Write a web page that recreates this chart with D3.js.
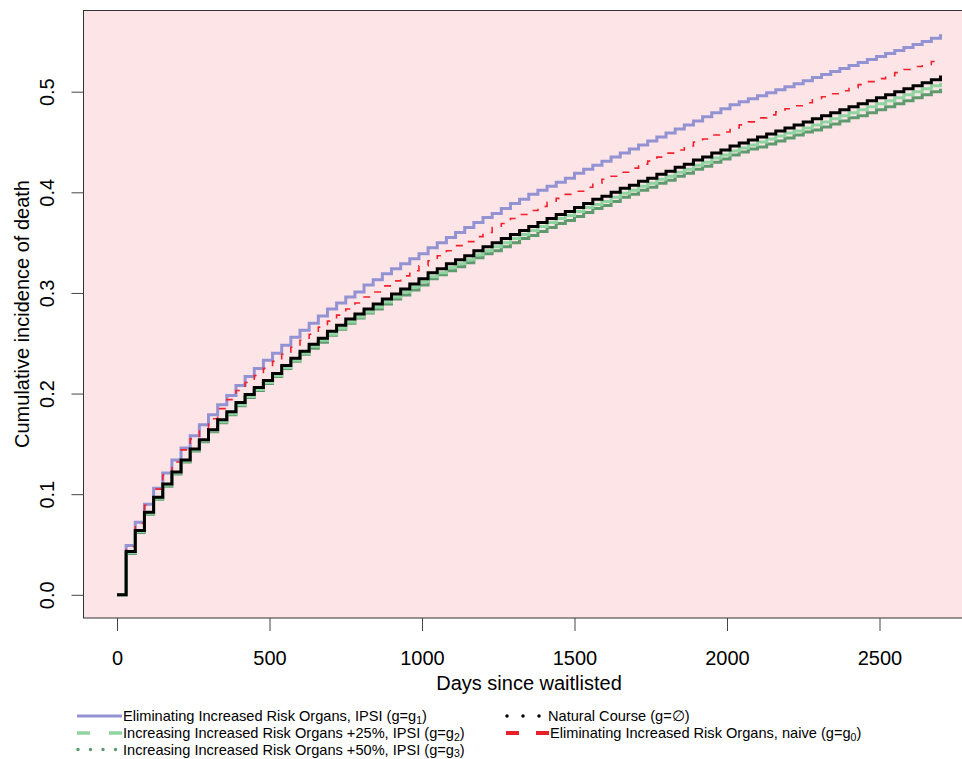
<!DOCTYPE html>
<html>
<head>
<meta charset="utf-8">
<script src="https://cdn.jsdelivr.net/npm/d3@7"></script>
<style>
  body { margin: 0; background: #fff; }
  text { font-family: "Liberation Sans", Arial, sans-serif; fill: #000; }
</style>
</head>
<body>
<div id="chart"></div>
<script>
// cumulative incidence step curves, one value per 30-day step
var days = [0,30,60,90,120,150,180,210,240,270,300,330,360,390,420,450,480,510,540,570,600,
  630,660,690,720,750,780,810,840,870,900,930,960,990,1020,1050,1080,1110,1140,1170,1200,
  1230,1260,1290,1320,1350,1380,1410,1440,1470,1500,1530,1560,1590,1620,1650,1680,1710,1740,1770,1800,
  1830,1860,1890,1920,1950,1980,2010,2040,2070,2100,2130,2160,2190,2220,2250,2280,2310,2340,2370,2400,
  2430,2460,2490,2520,2550,2580,2610,2640,2670,2700];

// Eliminating Increased Risk Organs, IPSI (g1)
var elimIPSI = [0, .049,.072,.090,.106,.121,.134,.146,.158,.169,.179, .189,.198,.208,.217,.225,.233,.240,.248,.256,.263,
  .270,.277,.284,.290,.296,.301,.308,.313,.319,.324, .329,.334,.339,.345,.350,.355,.360,.365,.370,.375,
  .379,.384,.389,.393,.398,.402,.406,.410,.414,.419, .423,.427,.431,.435,.439,.443,.447,.451,.455,.459,
  .463,.467,.471,.475,.479,.483,.487,.490,.493,.496, .499,.502,.505,.508,.511,.514,.517,.520,.523,.526,
  .529,.532,.535,.538,.541,.544,.547,.550,.553,.557];

// Increasing Increased Risk Organs +25% (g2)
var inc25 = [0, .042,.063,.081,.096,.109,.121,.133,.144,.153,.163, .172,.180,.189,.197,.204,.211,.218,.226,.233,.240,
  .247,.253,.259,.265,.271,.276,.281,.286,.291,.296, .301,.306,.311,.316,.320,.325,.329,.333,.338,.342,
  .346,.350,.354,.358,.362,.366,.370,.374,.377,.381, .385,.388,.391,.395,.399,.402,.406,.409,.413,.416,
  .420,.423,.427,.430,.434,.437,.441,.444,.447,.450, .453,.456,.459,.461,.464,.467,.470,.473,.476,.479,
  .482,.485,.488,.491,.494,.497,.500,.503,.506,.509];

// Increasing Increased Risk Organs +50% (g3)
var inc50 = [0, .041,.062,.080,.095,.108,.120,.132,.143,.152,.162, .171,.179,.188,.196,.203,.210,.217,.225,.232,.239,
  .245,.251,.258,.264,.270,.275,.280,.284,.289,.294, .298,.303,.308,.314,.318,.322,.326,.330,.335,.339,
  .342,.346,.350,.354,.357,.361,.365,.369,.372,.376, .380,.384,.387,.391,.395,.398,.402,.405,.409,.412,
  .416,.419,.423,.426,.430,.433,.437,.440,.443,.445, .448,.451,.454,.457,.460,.462,.465,.468,.471,.474,
  .476,.479,.482,.485,.488,.491,.494,.497,.500,.503];

// Natural course
var natural = [0, .043,.064,.082,.097,.110,.122,.134,.145,.154,.164, .174,.182,.191,.199,.206,.213,.220,.228,.235,.242,
  .249,.255,.262,.268,.274,.279,.284,.289,.294,.299, .304,.309,.314,.320,.324,.329,.333,.337,.342,.346,
  .350,.354,.358,.362,.366,.370,.374,.378,.381,.385, .389,.393,.396,.400,.404,.407,.411,.414,.418,.421,
  .425,.428,.432,.435,.439,.442,.446,.449,.452,.455, .458,.461,.464,.467,.470,.473,.476,.479,.482,.485,
  .488,.491,.494,.497,.500,.503,.506,.509,.512,.516];

// Eliminating Increased Risk Organs, naive (g0)
var elimNaive = [0, .048,.071,.089,.105,.119,.132,.144,.155,.165,.175, .185,.194,.203,.211,.218,.225,.232,.239,.246,.253,
  .259,.266,.272,.278,.284,.290,.296,.301,.307,.312, .317,.322,.327,.332,.337,.342,.347,.351,.356,.360,
  .365,.369,.374,.378,.382,.386,.390,.394,.398,.401, .405,.409,.413,.416,.420,.424,.428,.431,.435,.439,
  .442,.446,.450,.453,.457,.460,.464,.467,.470,.474, .477,.480,.483,.486,.489,.492,.495,.498,.501,.504,
  .507,.510,.513,.516,.519,.522,.525,.527,.530,.533];

var xTicks = [0, 500, 1000, 1500, 2000, 2500];
var yTicks = [0, 0.1, 0.2, 0.3, 0.4, 0.5];

var svgWidth = 962;
var svgHeight = 759;

var svg = d3.select("#chart")
  .append("svg")
  .attr("width", svgWidth)
  .attr("height", svgHeight);

var panel = {left: 83.5, top: 10.5, bottom: 618};

var xScale = d3.scaleLinear().domain([0, 2500]).range([117, 879.5]);
var yScale = d3.scaleLinear().domain([0, 0.5]).range([594.8, 91.7]);

// background panel
svg.append("rect")
  .attr("x", panel.left)
  .attr("y", panel.top)
  .attr("width", 1000)
  .attr("height", panel.bottom - panel.top)
  .attr("fill", "#fce4e7")
  .attr("stroke", "#333")
  .attr("stroke-width", 1);

// x axis
var xAxis = svg.append("g")
  .attr("transform", `translate(0, ${panel.bottom})`)
  .call(d3.axisBottom(xScale).tickValues(xTicks).tickSize(13).tickPadding(20).tickFormat(d3.format("d")));
xAxis.select(".domain").remove();
xAxis.selectAll(".tick line").attr("stroke", "#444");
xAxis.selectAll("text").attr("font-size", 20).attr("font-family", "Liberation Sans, Arial, sans-serif");

// y axis, labels rotated like base R
var yAxis = svg.append("g")
  .attr("transform", `translate(${panel.left}, 0)`)
  .call(d3.axisLeft(yScale).tickValues(yTicks).tickSize(12).tickFormat(d3.format(".1f")));
yAxis.select(".domain").remove();
yAxis.selectAll(".tick line").attr("stroke", "#444");
yAxis.selectAll(".tick text")
  .attr("x", null).attr("dy", null)
  .attr("text-anchor", "middle")
  .attr("font-size", 20)
  .attr("font-family", "Liberation Sans, Arial, sans-serif")
  .attr("transform", "translate(-30, 0) rotate(-90)");

svg.append("text")
  .attr("x", 529)
  .attr("y", 690)
  .attr("text-anchor", "middle")
  .attr("font-size", 20)
  .text("Days since waitlisted");

svg.append("text")
  .attr("transform", "translate(29, 314) rotate(-90)")
  .attr("text-anchor", "middle")
  .attr("font-size", 20)
  .text("Cumulative incidence of death");

// curves
var stepLine = d3.line()
  .x(d => xScale(d[0]))
  .y(d => yScale(d[1]))
  .curve(d3.curveStepAfter);

var series = [
  {vals: elimIPSI, color: "#9393d3", width: 3, dash: null},
  {vals: inc50, color: "#5f9a6f", width: 3, dash: null},
  {vals: inc25, color: "#90d4a2", width: 3, dash: null},
  {vals: elimNaive, color: "#f5202a", width: 1.6, dash: "7,9"},
  {vals: natural, color: "#000", width: 3, dash: null}
];

series.forEach(function(s) {
  svg.append("path")
    .datum(days.map((d, i) => [d, s.vals[i]]))
    .attr("d", stepLine)
    .attr("fill", "none")
    .attr("stroke", s.color)
    .attr("stroke-width", s.width)
    .attr("stroke-dasharray", s.dash);
});

// legend
var legendItems = [
  {x: 77, y: 716, len: 45, color: "#9393d3", width: 3, dash: null, cap: "butt", label: "Eliminating Increased Risk Organs, IPSI (g=g", sub: "1", tail: ")"},
  {x: 77, y: 733, len: 45, color: "#90d4a2", width: 3.5, dash: "13,19", cap: "butt", label: "Increasing Increased Risk Organs +25%, IPSI (g=g", sub: "2", tail: ")"},
  {x: 78, y: 749.5, len: 44, color: "#5f9a6f", width: 3.5, dash: "0,12.5", cap: "round", label: "Increasing Increased Risk Organs +50%, IPSI (g=g", sub: "3", tail: ")"},
  {x: 507, y: 716, len: 40, color: "#000", width: 3.5, dash: "0,16", cap: "round", label: "Natural Course (g=\u2205)", sub: null, tail: ""},
  {x: 506, y: 733, len: 43, color: "#e8202a", width: 4, dash: "13,17", cap: "butt", label: "Eliminating Increased Risk Organs, naive (g=g", sub: "0", tail: ")"}
];

var legend = svg.append("g");

legendItems.forEach(function(it) {
  legend.append("line")
    .attr("x1", it.x).attr("x2", it.x + it.len)
    .attr("y1", it.y).attr("y2", it.y)
    .attr("stroke", it.color)
    .attr("stroke-width", it.width)
    .attr("stroke-linecap", it.cap)
    .attr("stroke-dasharray", it.dash);

  var t = legend.append("text")
    .attr("x", it.x + it.len + 1)
    .attr("y", it.y + 5)
    .attr("font-size", 14.6);
  t.append("tspan").text(it.label);
  if (it.sub) {
    t.append("tspan").attr("font-size", 10.5).attr("dy", 2.5).text(it.sub);
    t.append("tspan").attr("dy", -2.5).text(it.tail);
  }
});
</script>
</body>
</html>
